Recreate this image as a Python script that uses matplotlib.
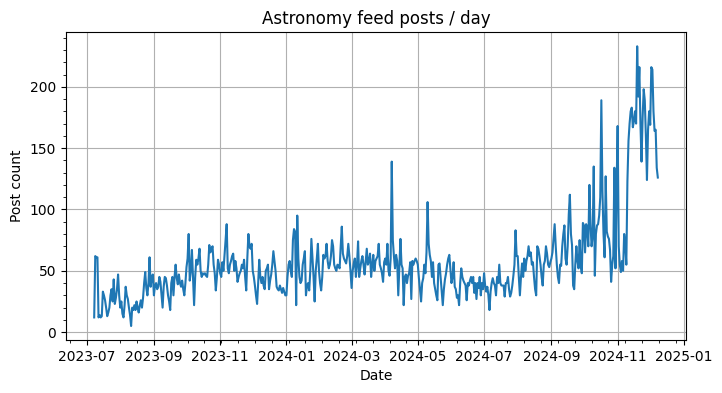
import matplotlib
matplotlib.use("Agg")
import matplotlib.pyplot as plt
import pandas as pd

start_date = "2023-07-08"

posts_2023_summer = [
    12, 62, 61, 61, 12, 14, 12, 13, 33, 30, 26, 20, 13, 16, 20, 30, 35, 25, 43, 23,
    28, 35, 47, 30, 20, 25, 15, 12, 22, 37, 30, 27, 20, 14, 5, 20, 18, 22, 18, 25,
    20, 16, 22, 26, 20, 28, 40, 49, 36, 30, 40, 61, 37, 45, 47, 30, 38, 40, 35, 37,
    45, 41, 30, 20, 37, 45, 44, 38, 30, 25, 18, 40, 45, 30, 45, 55, 44, 39, 47, 40,
    37, 42, 35, 30, 40, 53, 60,
]
posts_2023_autumn = [
    80, 42, 50, 67, 45, 22, 45, 59, 55, 60, 68, 50, 45, 48, 47, 48, 46, 45, 55, 71,
    65, 68, 70, 55, 48, 34, 45, 59, 55, 48, 45, 57, 50, 62, 75, 88, 52, 48, 55, 58,
    62, 64, 50, 58, 52, 41, 45, 48, 50, 55, 52, 59, 45, 34, 60, 80, 70, 68, 72, 50,
    45, 38, 30, 23, 40, 59, 45, 40, 45, 38, 35, 50, 52, 55, 35, 42, 47, 55, 66, 58,
    50, 37, 35, 34, 38, 35, 32, 36, 33, 30,
]
posts_2024_winter = [
    30, 45, 55, 58, 50, 45, 75, 84, 82, 22, 95, 60, 45, 40, 42, 55, 60, 66, 30, 38,
    40, 34, 50, 76, 60, 45, 25, 50, 60, 72, 50, 40, 34, 45, 63, 60, 62, 72, 58, 52,
    55, 62, 75, 70, 55, 52, 50, 55, 54, 52, 70, 86, 64, 60, 58, 56, 62, 72, 62, 50,
    36, 50, 56, 60, 45, 55, 74, 45, 52, 58, 62, 55, 47, 58, 68, 55, 58, 64, 45, 55,
    63, 50, 58, 60, 62, 72, 55,
]
posts_2024_spring = [
    52, 48, 41, 57, 60, 55, 72, 50, 46, 60, 139, 75, 62, 52, 63, 58, 30, 52, 76, 55,
    52, 22, 45, 47, 40, 46, 48, 57, 27, 58, 55, 58, 60, 58, 55, 44, 35, 25, 40, 44,
    55, 48, 65, 106, 72, 63, 58, 45, 57, 40, 35, 30, 26, 55, 56, 45, 35, 22, 35, 43,
    48, 55, 60, 63, 52, 40, 45, 57, 37, 35, 28, 30, 22, 40, 52, 45, 42, 40, 38, 26,
    40,
]
posts_2024_summer = [
    38, 42, 45, 40, 45, 32, 40, 27, 40, 36, 45, 30, 40, 35, 48, 38, 33, 37, 30, 18,
    33, 40, 44, 40, 38, 30, 45, 40, 55, 40, 38, 38, 38, 29, 40, 40, 45, 35, 29, 32,
    38, 46, 55, 83, 62, 62, 45, 30, 45, 56, 45, 60, 50, 58, 62, 70, 62, 65, 55, 57,
    45, 35, 30, 70, 68, 62, 55, 45, 38, 55, 58, 70, 64, 55, 53, 57, 60, 65, 77, 88,
    70, 55, 45, 40, 55, 54, 70, 80, 87, 60, 55, 70, 96,
]
posts_2024_autumn = [
    112, 80, 71, 38, 35, 55, 70, 58, 52, 75, 55, 48, 89, 87, 65, 88, 84, 70, 120, 88,
    70, 78, 135, 46, 80, 87, 88, 95, 110, 189, 115, 80, 61, 127, 82, 78, 76, 67, 41, 55,
    62, 134, 52, 115, 168, 70, 55, 49, 58, 50, 80, 72, 55, 123, 156, 170, 180, 183, 167, 172,
    180, 170, 233, 192, 216, 170, 139, 175, 198, 189, 160, 124, 165, 180, 169, 216, 214, 180, 164, 165,
    134, 126,
]

posts = (posts_2023_summer + posts_2023_autumn + posts_2024_winter
         + posts_2024_spring + posts_2024_summer + posts_2024_autumn)
dates = pd.date_range(start_date, periods=len(posts), freq="D")

fig = plt.figure(figsize=(7.22, 3.93), dpi=100)
ax = fig.add_axes([66 / 722, 1 - 340 / 393, (686 - 66) / 722, (340 - 32.3) / 393])
ax.plot(dates, posts, color="#1f77b4", linewidth=1.5)
ax.set_title("Astronomy feed posts / day")
ax.set_xlabel("Date")
ax.set_ylabel("Post count")
ax.grid(True)
ax.minorticks_on()
ax.grid(False, which="minor")
fig.savefig("out.png", dpi=100)
